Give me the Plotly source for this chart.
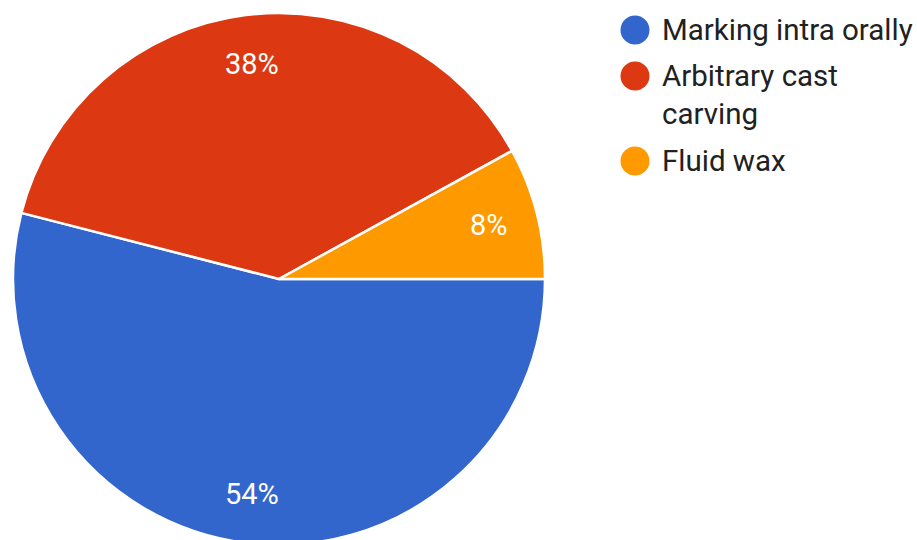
import math
import plotly.graph_objects as go

# Survey answers and their shares (%)
labels = ["Marking intra orally", "Arbitrary cast carving", "Fluid wax"]
legend_text = ["Marking intra orally", "Arbitrary cast<br>carving", "Fluid wax"]
values = [54, 38, 8]
colors = ["#3366CC", "#DC3912", "#FF9900"]

W, H = 917, 558
PIE_LEFT, PIE_TOP, PIE_SIZE = 13, 13, 532


def px(x):
    return x / W


def py(y):
    return 1 - y / H


fig = go.Figure()
fig.add_trace(go.Pie(
    labels=labels,
    values=values,
    sort=False,
    direction="clockwise",
    rotation=90,
    marker=dict(colors=colors, line=dict(color="white", width=2.5)),
    textinfo="none",
    showlegend=False,
    hoverinfo="label+percent",
    domain=dict(x=[px(PIE_LEFT), px(PIE_LEFT + PIE_SIZE)],
                y=[py(PIE_TOP + PIE_SIZE), py(PIE_TOP)]),
))

annotations = []

# Percentage labels placed along each slice's bisector, near the rim
cx = PIE_LEFT + PIE_SIZE / 2
cy = PIE_TOP + PIE_SIZE / 2
r_lab = 0.815 * PIE_SIZE / 2
total = sum(values)
cum = 0
for v in values:
    mid = (cum + v / 2) / total * 2 * math.pi  # clockwise from 3 o'clock
    cum += v
    lx = cx + r_lab * math.cos(mid)
    ly = cy + r_lab * math.sin(mid)
    annotations.append(dict(
        x=px(lx), y=py(ly), xref="paper", yref="paper",
        xanchor="center", yanchor="middle", showarrow=False,
        text=f"{round(v / total * 100)}%",
        font=dict(family="Roboto", size=29, color="white"),
    ))

# Legend: coloured dots with labels on the right
dot_y = [30, 76, 161]
text_y = [30, 57, 161]
anchors = ["middle", "top", "middle"]
shapes = []
for c, t, dy, ty, a in zip(colors, legend_text, dot_y, text_y, anchors):
    shapes.append(dict(
        type="circle", xref="paper", yref="paper",
        x0=px(620.5), x1=px(649.5), y0=py(dy + 14.5), y1=py(dy - 14.5),
        fillcolor=c, line=dict(width=0),
    ))
    annotations.append(dict(
        x=px(660), y=py(ty), xref="paper", yref="paper",
        xanchor="left", yanchor=a, align="left", showarrow=False,
        text=t, font=dict(family="Roboto", size=29.5, color="#212121"),
    ))

fig.update_layout(
    width=W, height=H,
    margin=dict(l=0, r=0, t=0, b=0),
    paper_bgcolor="white",
    shapes=shapes,
    annotations=annotations,
)

fig.write_html(
    "out.html",
    post_script="document.documentElement.style.overflow='hidden';document.body.style.overflow='hidden';document.body.style.margin='0';",
)
